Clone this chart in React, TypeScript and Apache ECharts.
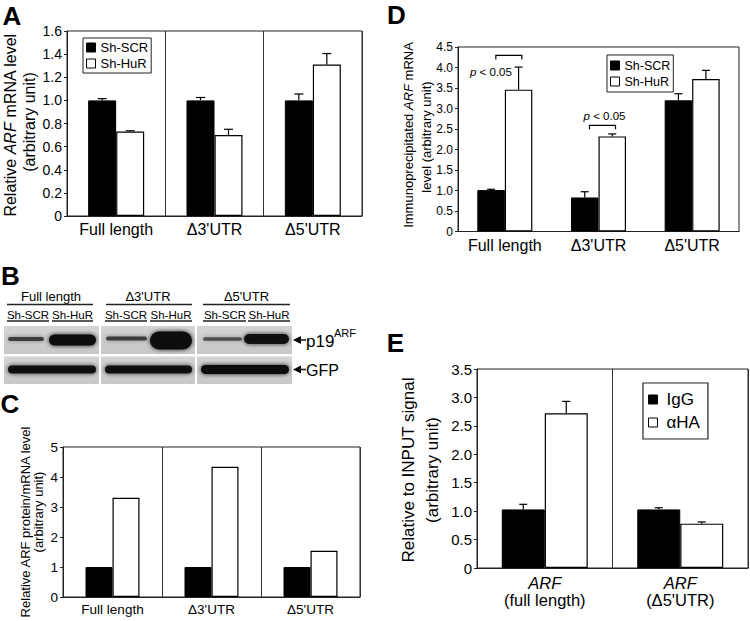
import React, { useEffect, useRef } from 'react';
import * as echarts from 'echarts';

const FONT = '"Liberation Sans", Arial, Helvetica, sans-serif';

// ---------- data ----------
const constructs = ['Full length', "Δ3'UTR", "Δ5'UTR"];
const legendShRNA = ['Sh-SCR', 'Sh-HuR'];

// Panel A: relative ARF mRNA level
const aScr = [1.0, 1.0, 1.0];
const aScrErr = [0.015, 0.025, 0.055];
const aHuR = [0.73, 0.70, 1.31];
const aHuRErr = [0.007, 0.05, 0.095];

// Panel C: relative ARF protein / mRNA level
const cScr = [1, 1, 1];
const cHuR = [3.31, 4.34, 1.54];

// Panel D: immunoprecipitated ARF mRNA level
const dScr = [1.01, 0.83, 3.2];
const dScrErr = [0.02, 0.14, 0.16];
const dHuR = [3.46, 2.32, 3.72];
const dHuRErr = [0.55, 0.06, 0.21];
const dSigCats = [0, 1];
const dSigLevels = [4.295, 2.59];
const dSigTextLevels = [3.9, 2.81];
const dSigText = 'p < 0.05';

// Panel E: relative to INPUT signal
const eCats = ['full length', "Δ5'UTR"];
const eLegend = ['IgG', 'αHA'];
const eIgG = [1.03, 1.03];
const eIgGErr = [0.09, 0.03];
const eHA = [2.72, 0.78];
const eHAErr = [0.21, 0.03];

// ---------- helpers ----------
const BLACK = '#000';
const LINE = '#222';

const errRender = (bw: number, cap: number) => (params: any, api: any) => {
  const ci = api.value(0);
  const v = api.value(1);
  const e = api.value(2);
  const side = api.value(3);
  const p0 = api.coord([ci, v]);
  const p1 = api.coord([ci, v + e]);
  const x = p0[0] + (side === 0 ? -bw / 2 : bw / 2);
  return {
    type: 'group',
    children: [
      { type: 'line', shape: { x1: x, y1: p0[1], x2: x, y2: p1[1] }, style: { stroke: BLACK, lineWidth: 1.2 } },
      { type: 'line', shape: { x1: x - cap / 2, y1: p1[1], x2: x + cap / 2, y2: p1[1] }, style: { stroke: BLACK, lineWidth: 1.2 } },
    ],
  };
};

const errData = (a: number[], ae: number[], b: number[], be: number[]) => {
  const out: number[][] = [];
  a.forEach((v, i) => {
    out.push([i, v, ae[i], 0]);
    out.push([i, b[i], be[i], 1]);
  });
  return out;
};

const fmt1 = (v: number) => (v === 0 ? '0' : v.toFixed(1));

const mkX = (idx: number, data: string[], fontSize: number, margin: number, split: boolean, extra: any = {}) => ({
  type: 'category',
  gridIndex: idx,
  data,
  axisTick: { show: false },
  axisLine: { lineStyle: { color: LINE, width: 1 } },
  axisLabel: { color: BLACK, fontSize, fontFamily: FONT, margin, interval: 0, ...extra },
  splitLine: { show: split, interval: 0, lineStyle: { color: '#333', width: 1 } },
});

const mkY = (idx: number, max: number, interval: number, fontSize: number, formatter: any) => ({
  type: 'value',
  gridIndex: idx,
  min: 0,
  max,
  interval,
  axisLine: { show: true, lineStyle: { color: LINE, width: 1 } },
  axisTick: { show: true, length: 3, lineStyle: { color: LINE } },
  axisLabel: { color: BLACK, fontSize, fontFamily: FONT, margin: 5, formatter },
  splitLine: { show: false },
});

const barBlack = (name: string, idx: number, data: number[], bw: number) => ({
  type: 'bar',
  name,
  xAxisIndex: idx,
  yAxisIndex: idx,
  data,
  barWidth: bw,
  barGap: '0%',
  itemStyle: { color: BLACK, borderColor: BLACK, borderWidth: 1 },
});
const barWhite = (name: string, idx: number, data: number[], bw: number) => ({
  type: 'bar',
  name,
  xAxisIndex: idx,
  yAxisIndex: idx,
  data,
  barWidth: bw,
  barGap: '0%',
  itemStyle: { color: '#fff', borderColor: BLACK, borderWidth: 1.2 },
});

const rotText = (x: number, y: number, text: string, fontSize: number, rich?: any) => ({
  type: 'text',
  x,
  y,
  rotation: Math.PI / 2,
  style: {
    text,
    fontSize,
    fontFamily: FONT,
    fill: BLACK,
    align: 'center',
    verticalAlign: 'middle',
    rich,
  },
});

const panelLabel = (x: number, y: number, t: string) => ({
  type: 'text',
  x,
  y,
  style: { text: t, fontSize: 26, fontWeight: 'bold', fontFamily: FONT, fill: BLACK, align: 'center', verticalAlign: 'middle' },
});

const plainText = (x: number, y: number, t: string, fontSize: number, align = 'center') => ({
  type: 'text',
  x,
  y,
  style: { text: t, fontSize, fontFamily: FONT, fill: BLACK, align, verticalAlign: 'middle' },
});

const hline = (x1: number, x2: number, y: number, w = 1.4) => ({
  type: 'line',
  shape: { x1, y1: y, x2, y2: y },
  style: { stroke: LINE, lineWidth: w },
});

const band = (x1: number, x2: number, cy: number, h: number, a: number) => ({
  type: 'rect',
  shape: { x: x1 + 2, y: cy - h / 2, width: x2 - x1 - 4, height: h, r: h / 2 },
  style: {
    fill: `rgba(8,8,8,${a})`,
    shadowBlur: 4,
    shadowColor: `rgba(20,20,20,${a})`,
  },
});

const blotBg = (x1: number, x2: number, y1: number, y2: number) => ({
  type: 'rect',
  shape: { x: x1, y: y1, width: x2 - x1, height: y2 - y1 },
  style: {
    fill: {
      type: 'linear',
      x: 0,
      y: 0,
      x2: 0,
      y2: 1,
      colorStops: [
        { offset: 0, color: '#d4d4d4' },
        { offset: 1, color: '#c8c8c8' },
      ],
    },
  },
});

const arrow = (x: number, y: number) => [
  { type: 'polygon', shape: { points: [[x, y], [x + 8, y - 4], [x + 8, y + 4]] }, style: { fill: BLACK } },
  hline(x + 6, x + 13, y, 1.6),
];

function buildPanelB(): any[] {
  const els: any[] = [];
  // header row 1
  els.push(plainText(51, 296.5, 'Full length', 13));
  els.push(plainText(148, 296.5, "Δ3'UTR", 13));
  els.push(plainText(246.5, 296.5, "Δ5'UTR", 13));
  els.push(hline(7, 93, 304.5));
  els.push(hline(106, 192, 304.5));
  els.push(hline(203, 290, 304.5));
  // header row 2
  const scrX = [28, 126, 225];
  const hurX = [72.5, 171, 269];
  scrX.forEach((x) => els.push(plainText(x, 315, 'Sh-SCR', 11.5)));
  hurX.forEach((x) => els.push(plainText(x, 315, 'Sh-HuR', 11.5)));
  [[7, 49], [52, 93], [105, 147], [150, 192], [203, 246], [248, 290]].forEach(([a, b]) => els.push(hline(a, b, 321)));
  // blot backgrounds
  const cols = [[4, 99], [101, 195], [197, 292]];
  cols.forEach(([a, b]) => {
    els.push(blotBg(a, b, 326, 354));
    els.push(blotBg(a, b, 356.5, 384));
  });
  // p19ARF bands
  els.push(band(6, 46, 339, 4, 0.62));
  els.push(band(47, 98, 340, 11, 1));
  els.push(band(104, 149, 338.5, 4, 0.62));
  els.push(band(148, 194, 340.5, 18, 1));
  els.push(band(201, 244, 339, 3.5, 0.55));
  els.push(band(242, 291, 339, 10, 0.95));
  // GFP bands
  els.push(band(6, 98, 369.5, 8, 0.95));
  els.push(band(103, 194, 369.5, 8, 0.95));
  els.push(band(199, 291, 369.5, 9, 1));
  // labels with arrows
  els.push(...arrow(293, 340));
  els.push(plainText(306, 341, 'p19', 17, 'left'));
  els.push(plainText(334, 333, 'ARF', 11, 'left'));
  els.push(...arrow(293, 369.5));
  els.push(plainText(306, 370, 'GFP', 16, 'left'));
  return els;
}

const D_BW = 27.5;
const sigDx = [-14, 6];
const bracketRender = (params: any, api: any) => {
  const i = params.dataIndex;
  const ci = api.value(0);
  const pc = api.coord([ci, api.value(1)]);
  const pt = api.coord([ci, api.value(2)]);
  const x1 = pc[0] - 9;
  const x2 = pc[0] + 17;
  return {
    type: 'group',
    children: [
      {
        type: 'polyline',
        shape: { points: [[x1, pc[1] + 4], [x1, pc[1]], [x2, pc[1]], [x2, pc[1] + 4]] },
        style: { stroke: BLACK, fill: null, lineWidth: 1.2 },
      },
      {
        type: 'text',
        x: pt[0] + sigDx[i],
        y: pt[1],
        style: {
          text: '{i|p}' + dSigText.slice(1),
          fontSize: 11.5,
          fontFamily: FONT,
          fill: BLACK,
          align: 'center',
          verticalAlign: 'middle',
          rich: { i: { fontStyle: 'italic', fontSize: 11.5, fontFamily: FONT, fill: BLACK } },
        },
      },
    ],
  };
};

export default function App() {
  const ref = useRef<HTMLDivElement>(null);
  useEffect(() => {
    if (!ref.current) return;
    const chart = echarts.init(ref.current, undefined, { renderer: 'svg' });
    const gridBase = { show: true, borderColor: LINE, borderWidth: 1, backgroundColor: 'transparent', containLabel: false };
    const option: any = {
      animation: false,
      backgroundColor: '#fff',
      textStyle: { fontFamily: FONT },
      grid: [
        { ...gridBase, left: 67, top: 31, width: 295, height: 185 },
        { ...gridBase, left: 63, top: 447, width: 297, height: 150 },
        { ...gridBase, left: 458, top: 47, width: 281, height: 184.5 },
        { ...gridBase, left: 477, top: 369, width: 271, height: 199 },
      ],
      xAxis: [
        mkX(0, constructs, 16, 5, true),
        mkX(1, constructs, 13.5, 5, true),
        mkX(2, constructs, 16, 6, false),
        mkX(3, eCats, 16.5, 6, true, {
          formatter: (v: string) => `{i|ARF}\n{n|(${v})}`,
          rich: {
            i: { fontStyle: 'italic', fontSize: 16.5, fontFamily: FONT, color: BLACK, lineHeight: 17 },
            n: { fontSize: 16.5, fontFamily: FONT, color: BLACK, lineHeight: 17 },
          },
        }),
      ],
      yAxis: [
        mkY(0, 1.6, 0.2, 14, fmt1),
        mkY(1, 5, 1, 13.5, (v: number) => String(v)),
        mkY(2, 4.5, 0.5, 12, fmt1),
        mkY(3, 3.5, 0.5, 15, fmt1),
      ],
      legend: [
        {
          left: 83,
          top: 38,
          orient: 'vertical',
          icon: 'rect',
          itemWidth: 9,
          itemHeight: 9,
          itemGap: 3,
          padding: [3, 3, 3, 3],
          borderColor: LINE,
          borderWidth: 1,
          selectedMode: false,
          textStyle: { fontSize: 13, fontFamily: FONT, color: BLACK, lineHeight: 12 },
          data: [
            { name: legendShRNA[0], itemStyle: { color: BLACK, borderColor: BLACK, borderWidth: 1 } },
            { name: legendShRNA[1], itemStyle: { color: '#fff', borderColor: BLACK, borderWidth: 1 } },
          ],
        },
        {
          left: 607,
          top: 55,
          orient: 'vertical',
          icon: 'rect',
          itemWidth: 9,
          itemHeight: 9,
          itemGap: 3,
          padding: [4, 3, 4, 3],
          borderColor: LINE,
          borderWidth: 1,
          selectedMode: false,
          textStyle: { fontSize: 12.5, fontFamily: FONT, color: BLACK, lineHeight: 12 },
          data: [
            { name: legendShRNA[0], itemStyle: { color: BLACK, borderColor: BLACK, borderWidth: 1 } },
            { name: legendShRNA[1], itemStyle: { color: '#fff', borderColor: BLACK, borderWidth: 1 } },
          ],
        },
        {
          left: 643,
          top: 383,
          orient: 'vertical',
          icon: 'rect',
          itemWidth: 9,
          itemHeight: 9,
          itemGap: 6,
          padding: [8, 8, 8, 5],
          borderColor: LINE,
          borderWidth: 1.2,
          selectedMode: false,
          textStyle: { fontSize: 17, fontFamily: FONT, color: BLACK, lineHeight: 15, padding: [0, 0, 0, 4] },
          data: [
            { name: eLegend[0], itemStyle: { color: BLACK, borderColor: BLACK, borderWidth: 1 } },
            { name: eLegend[1], itemStyle: { color: '#fff', borderColor: BLACK, borderWidth: 1 } },
          ],
        },
      ],
      series: [
        barBlack(legendShRNA[0], 0, aScr, 28),
        barWhite(legendShRNA[1], 0, aHuR, 28),
        {
          type: 'custom',
          xAxisIndex: 0,
          yAxisIndex: 0,
          renderItem: errRender(28, 9),
          encode: { x: 0, y: 1 },
          data: errData(aScr, aScrErr, aHuR, aHuRErr),
          z: 5,
        },
        barBlack(legendShRNA[0], 1, cScr, 27),
        barWhite(legendShRNA[1], 1, cHuR, 27),
        barBlack(legendShRNA[0], 2, dScr, D_BW),
        barWhite(legendShRNA[1], 2, dHuR, D_BW),
        {
          type: 'custom',
          xAxisIndex: 2,
          yAxisIndex: 2,
          renderItem: errRender(D_BW, 8),
          encode: { x: 0, y: 1 },
          data: errData(dScr, dScrErr, dHuR, dHuRErr),
          z: 5,
        },
        {
          type: 'custom',
          xAxisIndex: 2,
          yAxisIndex: 2,
          renderItem: bracketRender,
          encode: { x: 0, y: 1 },
          data: dSigCats.map((c, i) => [c, dSigLevels[i], dSigTextLevels[i]]),
          z: 5,
        },
        barBlack(eLegend[0], 3, eIgG, 43),
        barWhite(eLegend[1], 3, eHA, 43),
        {
          type: 'custom',
          xAxisIndex: 3,
          yAxisIndex: 3,
          renderItem: errRender(43, 8),
          encode: { x: 0, y: 1 },
          data: errData(eIgG, eIgGErr, eHA, eHAErr),
          z: 5,
        },
      ],
      graphic: [
        panelLabel(12, 15.5, 'A'),
        panelLabel(10.5, 276, 'B'),
        panelLabel(10, 404, 'C'),
        panelLabel(396.5, 14.5, 'D'),
        panelLabel(395.5, 342.5, 'E'),
        // y-axis titles
        rotText(10.5, 125, 'Relative {i|ARF} mRNA level', 16, {
          i: { fontStyle: 'italic', fontSize: 16, fontFamily: FONT, fill: BLACK },
        }),
        rotText(29.5, 122, '(arbitrary unit)', 16),
        rotText(25.5, 522, 'Relative ARF protein/mRNA level', 13),
        rotText(38, 512, '(arbitrary unit)', 13),
        rotText(408, 135, 'Immunoprecipitated {i|ARF} mRNA', 13, {
          i: { fontStyle: 'italic', fontSize: 13, fontFamily: FONT, fill: BLACK },
        }),
        rotText(426, 137, 'level (arbitrary unit)', 13),
        rotText(408.5, 470, 'Relative to INPUT signal', 17),
        rotText(432, 470, '(arbitrary unit)', 17),
        ...buildPanelB(),
      ],
    };
    chart.setOption(option);
    return () => chart.dispose();
  }, []);
  return (
    <div
      ref={ref}
      style={{ position: 'absolute', left: 0, top: 0, width: 750, height: 621, background: '#fff' }}
    />
  );
}
